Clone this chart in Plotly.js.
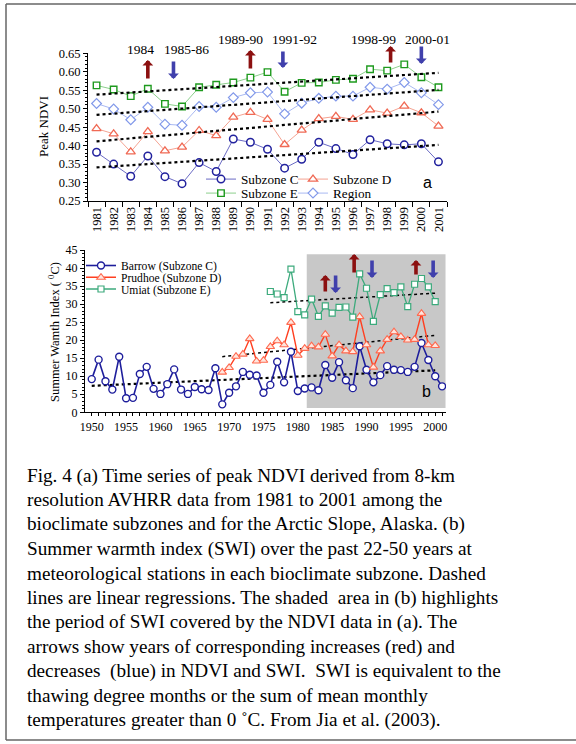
<!DOCTYPE html>
<html><head><meta charset="utf-8">
<script src="https://cdn.plot.ly/plotly-3.0.1.min.js"></script>
<style>html,body{margin:0;padding:0;background:#fff}#chart{width:576px;height:744px}</style>
</head><body><div id="chart"></div>
<script>
// ---------- Panel (a): peak NDVI ----------
const ndviYears = ['1981','1982','1983','1984','1985','1986','1987','1988','1989','1990','1991','1992','1993','1994','1995','1996','1997','1998','1999','2000','2001'];
const ndviSubzoneC = [0.382,0.350,0.317,0.372,0.316,0.297,0.354,0.330,0.418,0.409,0.390,0.339,0.363,0.409,0.392,0.376,0.416,0.405,0.402,0.405,0.356];
const ndviSubzoneD = [0.446,0.432,0.383,0.438,0.386,0.396,0.441,0.427,0.477,0.490,0.471,0.403,0.442,0.473,0.479,0.471,0.497,0.488,0.507,0.489,0.453];
const ndviSubzoneE = [0.563,0.552,0.534,0.554,0.513,0.506,0.558,0.565,0.571,0.584,0.599,0.546,0.570,0.571,0.578,0.581,0.607,0.603,0.620,0.585,0.558];
const ndviRegion   = [0.514,0.499,0.470,0.504,0.458,0.455,0.506,0.504,0.530,0.543,0.545,0.486,0.515,0.528,0.534,0.534,0.558,0.553,0.571,0.543,0.511];
const ndviTickVals = [0.25,0.30,0.35,0.40,0.45,0.50,0.55,0.60,0.65];

// ---------- Panel (b): summer warmth index ----------
const barrowYears = [1950,1951,1952,1953,1954,1955,1956,1957,1958,1959,1960,1961,1962,1963,1964,1965,1966,1967,1968,1969,1970,1971,1972,1973,1974,1975,1976,1977,1978,1979,1980,1981,1982,1983,1984,1985,1986,1987,1988,1989,1990,1991,1992,1993,1994,1995,1996,1997,1998,1999,2000,2001];
const barrowSWI = [9.2,14.6,8.6,6.3,15.4,3.9,4.0,10.6,12.6,6.5,5.1,7.8,11.9,6.3,5.1,7.0,6.4,6.2,12.2,2.2,5.4,7.2,11.2,10.4,10.2,5.4,7.6,14.0,8.3,16.8,5.9,6.6,6.9,6.1,13.1,9.6,13.9,8.9,6.7,18.3,11.8,8.3,10.3,12.8,11.8,11.7,11.2,12.6,19.2,14.5,10.0,7.2];
const prudhoeYears = [1969,1970,1971,1972,1973,1974,1975,1976,1977,1978,1979,1980,1981,1982,1983,1984,1985,1986,1987,1988,1989,1990,1991,1992,1993,1994,1995,1996,1997,1998,1999,2000];
const prudhoeSWI = [11.1,12.4,15.5,16.1,20.4,14.2,14.4,18.2,19.8,18.7,24.9,15.8,17.7,18.4,18.1,21.6,15.6,18.7,17.0,16.8,26.5,18.7,12.5,17.0,20.2,22.3,21.0,20.0,20.2,27.4,18.7,18.5];
const umiatYears = [1976,1977,1978,1979,1980,1981,1982,1983,1984,1985,1986,1987,1988,1989,1990,1991,1992,1993,1994,1995,1996,1997,1998,1999,2000];
const umiatSWI = [33.5,32.8,31.8,39.7,27.9,27.0,31.4,26.6,29.5,27.5,29.1,29.2,26.4,38.4,34.4,25.2,32.6,34.3,33.2,34.8,29.3,35.5,37.1,34.8,30.7];

// ---------- text ----------
const captionLines = [
 'Fig. 4 (a) Time series of peak NDVI derived from 8-km',
 'resolution AVHRR data from 1981 to 2001 among the',
 'bioclimate subzones and for the Arctic Slope, Alaska. (b)',
 'Summer warmth index (SWI) over the past 22-50 years at',
 'meteorological stations in each bioclimate subzone. Dashed',
 'lines are linear regressions. The shaded \u00a0area in (b) highlights',
 'the period of SWI covered by the NDVI data in (a). The',
 'arrows show years of corresponding increases (red) and',
 'decreases \u00a0(blue) in NDVI and SWI. \u00a0SWI is equivalent to the',
 'thawing degree months or the sum of mean monthly',
 'temperatures greater than 0 \u02daC. From Jia et al. (2003).'
];

const W = 576, H = 744;
const px = x => x / W;
const py = y => 1 - y / H;
const SERIF = 'Liberation Serif, Times New Roman, serif';
const SANS = 'Liberation Sans, Arial, sans-serif';

function linfit(xs, ys) {
  const n = xs.length;
  let sx=0, sy=0, sxx=0, sxy=0;
  for (let i=0;i<n;i++){ sx+=xs[i]; sy+=ys[i]; sxx+=xs[i]*xs[i]; sxy+=xs[i]*ys[i]; }
  const b = (n*sxy - sx*sy) / (n*sxx - sx*sx);
  const a = (sy - b*sx) / n;
  return x => a + b*x;
}

const idx = ndviYears.map((_, i) => i);
function ndviTrend(vals) {
  const f = linfit(idx, vals);
  return {
    x: [ndviYears[0], ndviYears[ndviYears.length-1]],
    y: [f(0), f(idx.length-1)],
    xaxis: 'x', yaxis: 'y', mode: 'lines', showlegend: false, hoverinfo: 'skip',
    line: {color: '#000', width: 2.2, dash: 'dot'}
  };
}
function swiTrend(xs, ys, width, x1) {
  const f = linfit(xs, ys);
  return {
    x: [xs[0], x1], y: [f(xs[0]), f(x1)],
    xaxis: 'x2', yaxis: 'y2', mode: 'lines', showlegend: false, hoverinfo: 'skip',
    line: {color: '#000', width: width, dash: 'dot'}
  };
}
const swiEnd = umiatYears[umiatYears.length-1];

const traces = [
  {x: ndviYears, y: ndviSubzoneC, name: 'Subzone C', legend: 'legend', xaxis: 'x', yaxis: 'y', mode: 'lines+markers',
   line: {color: '#6a6ac4', width: 1}, marker: {symbol: 'circle', size: 7.5, color: '#fff', line: {color: '#22229e', width: 1.5}}},
  {x: ndviYears, y: ndviSubzoneD, name: 'Subzone D', legend: 'legend2', xaxis: 'x', yaxis: 'y', mode: 'lines+markers',
   line: {color: '#f4a392', width: 1}, marker: {symbol: 'triangle-up', size: 8, color: '#fff', line: {color: '#f06a55', width: 1.3}}},
  {x: ndviYears, y: ndviSubzoneE, name: 'Subzone E', legend: 'legend3', xaxis: 'x', yaxis: 'y', mode: 'lines+markers',
   line: {color: '#8ccf8c', width: 1}, marker: {symbol: 'square', size: 6.5, color: '#fff', line: {color: '#1e9a1e', width: 1.4}}},
  {x: ndviYears, y: ndviRegion, name: 'Region', legend: 'legend4', xaxis: 'x', yaxis: 'y', mode: 'lines+markers',
   line: {color: '#a9b9f2', width: 1}, marker: {symbol: 'diamond', size: 7.5, color: '#fff', line: {color: '#8299ea', width: 1.2}}},
  ndviTrend(ndviSubzoneC), ndviTrend(ndviSubzoneD), ndviTrend(ndviSubzoneE), ndviTrend(ndviRegion),

  swiTrend(barrowYears, barrowSWI, 2.2, swiEnd),
  swiTrend(prudhoeYears, prudhoeSWI, 1.5, swiEnd),
  swiTrend(umiatYears, umiatSWI, 1.5, swiEnd),
  {x: barrowYears, y: barrowSWI, name: 'Barrow (Subzone C)', legend: 'legend5', xaxis: 'x2', yaxis: 'y2', mode: 'lines+markers',
   line: {color: '#1e1e9c', width: 1.6}, marker: {symbol: 'circle', size: 7, color: '#fff', line: {color: '#1e1e9c', width: 1.4}}},
  {x: prudhoeYears, y: prudhoeSWI, name: 'Prudhoe (Subzone D)', legend: 'legend6', xaxis: 'x2', yaxis: 'y2', mode: 'lines+markers',
   line: {color: '#ff3f20', width: 1.4}, marker: {symbol: 'triangle-up', size: 7.5, color: '#ffe6de', line: {color: '#ff6a50', width: 1.1}}},
  {x: umiatYears, y: umiatSWI, name: 'Umiat (Subzone E)', legend: 'legend7', xaxis: 'x2', yaxis: 'y2', mode: 'lines+markers',
   line: {color: '#3caa7c', width: 1.3}, marker: {symbol: 'square', size: 6, color: '#fff', line: {color: '#3caa7c', width: 1.2}}}
];

const RED = '#8c1010', BLUE = '#4040ac';
function arrowA(xIndex, tipY, tailY, color) {
  return {x: xIndex, xref: 'x', y: py(tipY), yref: 'paper', ax: 0, ay: tailY - tipY, text: '',
          showarrow: true, arrowhead: 1, arrowsize: 0.5, arrowwidth: 3.6, arrowcolor: color};
}
function arrowB(year, tipY, tailY, color) {
  return {x: year, xref: 'x2', y: py(tipY), yref: 'paper', ax: 0, ay: tailY - tipY, text: '',
          showarrow: true, arrowhead: 1, arrowsize: 0.5, arrowwidth: 3.6, arrowcolor: color};
}
function label(text, x, y, size, family, extra) {
  return Object.assign({text: text, x: px(x), y: py(y), xref: 'paper', yref: 'paper', showarrow: false,
          xanchor: 'center', yanchor: 'middle',
          font: {family: family || SERIF, size: size, color: '#000'}}, extra || {});
}

const annotations = [
  label('1984', 140, 50, 13.5), label('1985-86', 186, 50, 13.5),
  label('1989-90', 240, 40, 13.5), label('1991-92', 294, 40, 13.5),
  label('1998-99', 373, 40, 13.5), label('2000-01', 427, 40, 13.5),
  arrowA(3, 60, 80, RED), arrowA(4.5, 79, 60, BLUE),
  arrowA(9, 50, 70, RED), arrowA(10.9, 68, 50, BLUE),
  arrowA(17.2, 46, 64, RED), arrowA(19.0, 64, 45, BLUE),
  arrowB(1984, 275, 293, RED), arrowB(1985.5, 293, 274, BLUE),
  arrowB(1988.2, 254, 274, RED), arrowB(1990.8, 278, 259, BLUE),
  arrowB(1997.2, 260, 276, RED), arrowB(1999.7, 278, 259, BLUE),
  label('Peak NDVI', 44, 127, 13, SERIF, {textangle: -90}),
  label('Summer Wamth Index ( <sup>0</sup>C)', 54, 332, 12.5, SERIF, {textangle: -90}),
  label('a', 427, 182, 16, SANS),
  label('b', 426, 391, 16, SANS)
];
captionLines.forEach((t, i) => annotations.push(
  label(t, 25, 475.5 + i * 24.45, 19.2, SERIF, {xanchor: 'left', yanchor: 'middle', align: 'left'})
));

function legendAt(x, y, size) {
  return {x: px(x), y: py(y), xanchor: 'left', yanchor: 'middle', bgcolor: 'rgba(0,0,0,0)',
          borderwidth: 0, itemwidth: 30, tracegroupgap: 0, font: {family: SERIF, size: size, color: '#000'}};
}

const axisBase = {showline: true, linecolor: '#000', linewidth: 1, ticks: 'outside', tickcolor: '#000',
                  showgrid: false, zeroline: false, fixedrange: true, tickfont: {family: SERIF, size: 12.5, color: '#000'}};

const layout = {
  width: W, height: H, margin: {l: 0, r: 0, t: 0, b: 0}, paper_bgcolor: '#fff', plot_bgcolor: 'rgba(0,0,0,0)',
  showlegend: true, hovermode: false,
  font: {family: SERIF, color: '#000'},
  xaxis: Object.assign({}, axisBase, {domain: [px(88), px(447)], anchor: 'y', type: 'category',
          categoryorder: 'array', categoryarray: ndviYears,
          tickson: 'boundaries', ticklen: 5, tickangle: -90, range: [-0.5, 20.5]}),
  yaxis: Object.assign({}, axisBase, {domain: [py(201), py(53.3)], anchor: 'x', range: [0.25, 0.65],
          tickvals: ndviTickVals, tickformat: '.2f', ticklen: 4,
          minor: {dtick: 0.01, ticks: 'outside', ticklen: 2, tickcolor: '#000'}}),
  xaxis2: Object.assign({}, axisBase, {domain: [px(85), px(446)], anchor: 'y2', range: [1949.02, 2001.57],
          tick0: 1950, dtick: 5, ticklen: 3, tickfont: {family: SERIF, size: 12, color: '#000'},
          minor: {dtick: 1, ticks: 'outside', ticklen: 3, tickcolor: '#000'}}),
  yaxis2: Object.assign({}, axisBase, {domain: [py(412.3), py(250)], anchor: 'x2', range: [0, 45],
          dtick: 5, ticklen: 4, tickfont: {family: SERIF, size: 12, color: '#000'},
          minor: {dtick: 1, ticks: 'outside', ticklen: 2, tickcolor: '#000'}}),
  legend: legendAt(201, 179.5, 13.2), legend2: legendAt(293, 179.5, 13.2),
  legend3: legendAt(201, 193.5, 13.2), legend4: legendAt(293, 193.5, 13.2),
  legend5: legendAt(81, 265.5, 11.6), legend6: legendAt(81, 277.3, 11.6), legend7: legendAt(81, 289, 11.6),
  shapes: [
    {type: 'rect', xref: 'x2', yref: 'y2', x0: 1981.3, x1: 2001.5, y0: 1.2, y1: 43.8,
     fillcolor: '#c8c8c8', line: {width: 0}, layer: 'below'},
    {type: 'line', xref: 'paper', yref: 'paper', x0: px(6), x1: px(6), y0: py(4), y1: py(740), line: {color: '#666', width: 1.5}},
    {type: 'line', xref: 'paper', yref: 'paper', x0: px(6), x1: 1.02, y0: py(4), y1: py(4), line: {color: '#666', width: 1.5}},
    {type: 'line', xref: 'paper', yref: 'paper', x0: px(6), x1: 1.02, y0: py(740), y1: py(740), line: {color: '#666', width: 1.5}}
  ],
  annotations: annotations
};

Plotly.newPlot('chart', traces, layout, {staticPlot: true, displayModeBar: false});
</script>
</body></html>
